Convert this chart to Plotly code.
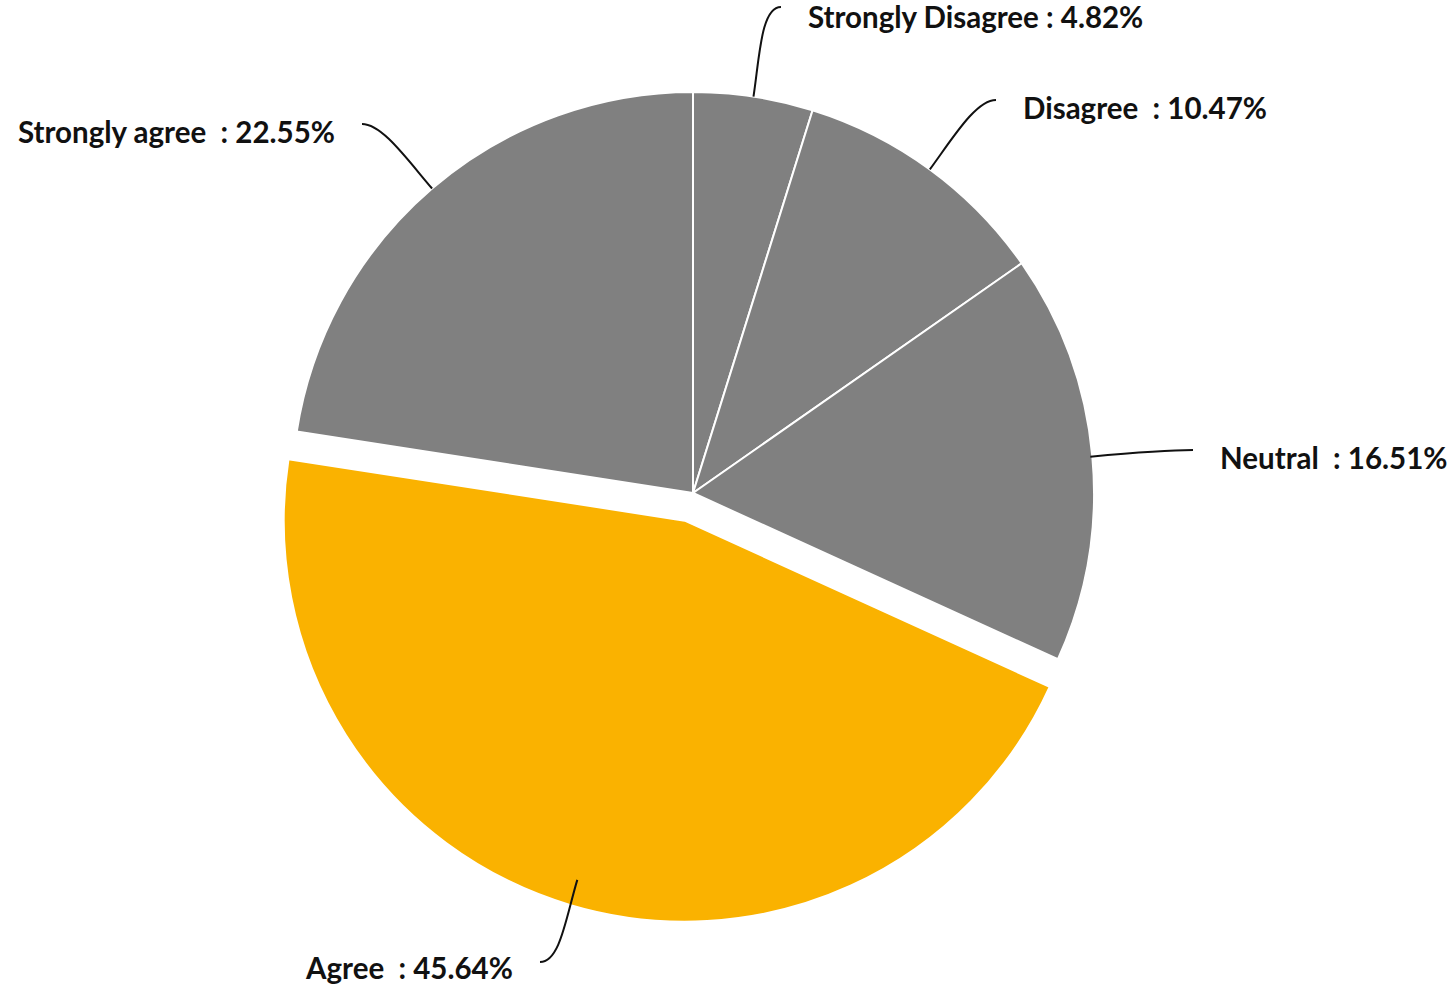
import math
import plotly.graph_objects as go

# ---- data ----
labels = ["Strongly Disagree", "Disagree", "Neutral", "Agree", "Strongly agree"]
values = [4.82, 10.47, 16.51, 45.64, 22.55]
separators = [" ", "\u00a0\u00a0", "\u00a0\u00a0", "\u00a0\u00a0", "\u00a0\u00a0"]
colors = ["#808080", "#808080", "#808080", "#fab200", "#808080"]
pulls = [0, 0, 0, 0.072, 0]

# ---- layout constants (pixels) ----
W, H = 1450, 985
CX, CY, R = 693, 493, 401
max_pull = max(pulls)
box = 2 * R * (1 + max_pull)
dom_x = [(CX - box / 2) / W, (CX + box / 2) / W]
dom_y = [1 - (CY + box / 2) / H, 1 - (CY - box / 2) / H]

# label anchor points (end of leader line), text side, text vertical offset
label_ends = [(781, 7), (996, 100), (1193, 450), (540, 962), (362, 124)]
label_side = [1, 1, 1, -1, -1]
label_dy = [10, 8, 8, 5, 8]
start_frac = [1.0, 1.0, 0.995, 0.935, 1.0]

fig = go.Figure(go.Pie(
    labels=labels, values=values, sort=False, direction="clockwise", rotation=0,
    pull=pulls, textinfo="none", hoverinfo="label+percent",
    marker=dict(colors=colors, line=dict(color="white", width=2)),
    domain=dict(x=dom_x, y=dom_y), showlegend=False,
))

def px(x, y):
    return x / W, 1 - y / H

shapes, annotations = [], []
total = sum(values)
cum = 0
for i, v in enumerate(values):
    mid = (cum + v / 2) / total * 2 * math.pi
    cum += v
    dx, dy = math.sin(mid), -math.cos(mid)
    off = pulls[i] * R
    sx = CX + dx * (R * start_frac[i] + off)
    sy = CY + dy * (R * start_frac[i] + off)
    ex, ey = label_ends[i]
    c1x, c1y = sx + dx * 40, sy + dy * 40
    c2x, c2y = ex - label_side[i] * 20, ey
    pts = [px(sx, sy), px(c1x, c1y), px(c2x, c2y), px(ex, ey)]
    path = "M {:.5f},{:.5f} C {:.5f},{:.5f} {:.5f},{:.5f} {:.5f},{:.5f}".format(
        *[c for p in pts for c in p])
    shapes.append(dict(type="path", path=path, xref="paper", yref="paper",
                       line=dict(color="#111111", width=2)))
    tx = ex + label_side[i] * 26
    ax, ay = px(tx, ey + label_dy[i])
    annotations.append(dict(
        x=ax, y=ay, xref="paper", yref="paper", showarrow=False,
        xanchor="left" if label_side[i] > 0 else "right", yanchor="middle",
        borderpad=0,
        text=f"{labels[i]}{separators[i]}: {v:.2f}%",
        font=dict(family="Lato", size=29.5, color="#111111", weight="bold"),
    ))

fig.update_layout(
    width=W, height=H, margin=dict(l=0, r=0, t=0, b=0),
    paper_bgcolor="white", plot_bgcolor="white",
    shapes=shapes, annotations=annotations,
)
fig.write_html("out.html", config={"displayModeBar": False},
               post_script="document.body.style.margin='0';")
